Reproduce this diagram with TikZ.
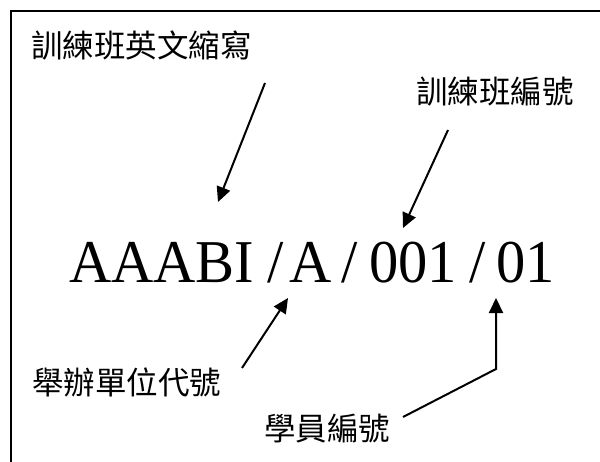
\documentclass[tikz,border=0pt]{standalone}
\usepackage{fontspec}
\setmainfont{Liberation Serif}
\newfontfamily\cjk{Noto Sans CJK TC}
\usetikzlibrary{arrows.meta}
\tikzset{
  cjklabel/.style={anchor=west, inner sep=0pt, font=\cjk\fontsize{31.5bp}{36bp}\selectfont, text=black},
  pointer/.style={line width=2bp, -{Triangle[length=15bp,width=14bp]}},
  frameline/.style={line width=2bp}
}
\begin{document}
\begin{tikzpicture}[x=1bp,y=-1bp]
\useasboundingbox (0,0) rectangle (600,462);
% frame
\draw[frameline] (602,11) -- (11,11) -- (11,464);
% main code
\node[anchor=base west, inner sep=0pt, font=\fontsize{58.5bp}{66bp}\selectfont] (code) at (69,283)
  {\scalebox{1}[1.04]{AAABI\hspace{13.3bp}/\hspace{6bp}A\hspace{9.2bp}/\hspace{11.8bp}001\hspace{12.1bp}/\hspace{10.8bp}01}};
% labels
\node[cjklabel] (abbr) at (31,46) {訓練班英文縮寫};
\node[cjklabel] (classno) at (416,92) {訓練班編號};
\node[cjklabel] (unit) at (32,382) {舉辦單位代號};
\node[cjklabel] (student) at (264,429) {學員編號};
% arrow points
\coordinate (a1s) at (265,83);
\coordinate (a1e) at (218,202);
\coordinate (a2s) at (448,130);
\coordinate (a2e) at (403,228);
\coordinate (a3s) at (242,368);
\coordinate (a3e) at (288,298);
\coordinate (a4s) at (403,417);
\coordinate (a4c) at (496,369);
\coordinate (a4e) at (496,298);
% arrows
\draw[pointer] (a1s) -- (a1e);
\draw[pointer] (a2s) -- (a2e);
\draw[pointer] (a3s) -- (a3e);
\draw[pointer] (a4s) -- (a4c) -- (a4e);
\end{tikzpicture}
\end{document}
